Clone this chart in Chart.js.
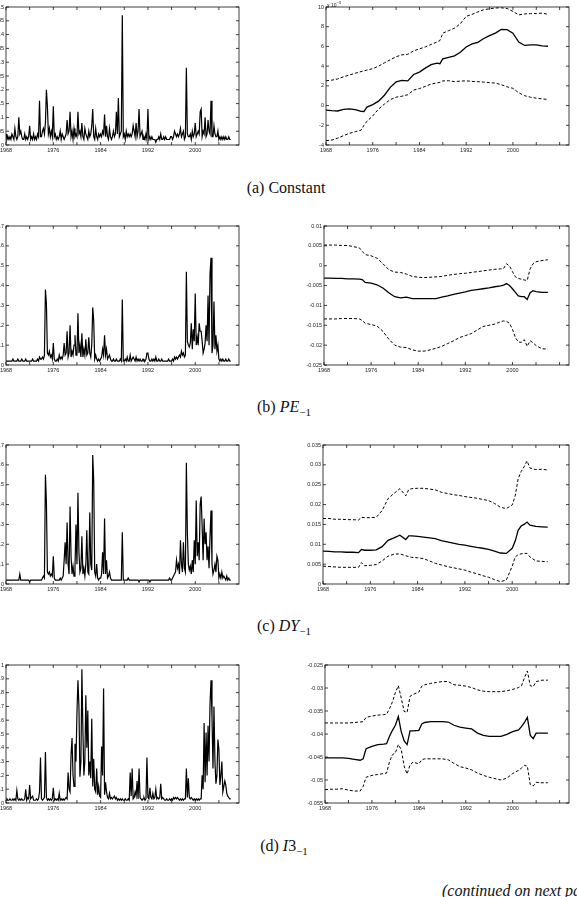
<!DOCTYPE html>
<html>
<head>
<meta charset="utf-8">
<script src="https://cdn.jsdelivr.net/npm/chart.js@4.4.1/dist/chart.umd.min.js"></script>
<style>
  html, body { margin: 0; padding: 0; background: #fff; }
  body { width: 577px; height: 897px; position: relative; overflow: hidden; }
  canvas { position: absolute; }
  .caption { position: absolute; width: 200px; text-align: center; font-family: 'Liberation Serif', serif; font-size: 16px; line-height: 20px; color: #111; }
  .caption sub { font-size: 11px; vertical-align: -4px; line-height: 0; }
  .scale-note { position: absolute; left: 327px; top: 0px; font: 5px 'Liberation Sans', sans-serif; color: #111; }
  .scale-note sup { font-size: 4px; }
  .more { position: absolute; left: 442px; top: 882px; font: italic 16px 'Liberation Serif', serif; white-space: nowrap; color: #111; }
</style>
</head>
<body>
<canvas id="leftA"></canvas>
<canvas id="rightA"></canvas>
<canvas id="leftB"></canvas>
<canvas id="rightB"></canvas>
<canvas id="leftC"></canvas>
<canvas id="rightC"></canvas>
<canvas id="leftD"></canvas>
<canvas id="rightD"></canvas>

<div class="scale-note">x 10<sup>−3</sup></div>
<div class="caption" style="left:186px; top:178px;">(a) Constant</div>
<div class="caption" style="left:184px; top:397px;">(b) <i>PE</i><sub>−1</sub></div>
<div class="caption" style="left:184px; top:616px;">(c) <i>DY</i><sub>−1</sub></div>
<div class="caption" style="left:184px; top:836px;">(d) <i>I</i>3<sub>−1</sub></div>
<div class="more">(continued on next page)</div>

<script>
// left column: one observation every two months, 1968 to 2006
const startYear = 1968;
const stepYears = 2 / 12;

const xTickYears = [1968, 1972, 1976, 1980, 1984, 1988, 1992, 1996, 2000, 2004, 2008];
const xLabelYears = [1968, 1976, 1984, 1992, 2000];

const leftTicksA = [0, 0.05, 0.1, 0.15, 0.2, 0.25, 0.3, 0.35, 0.4, 0.45, 0.5];
const leftTicksB = [0, 0.1, 0.2, 0.3, 0.4, 0.5, 0.6, 0.7];
const leftTicksC = [0, 0.1, 0.2, 0.3, 0.4, 0.5, 0.6, 0.7];
const leftTicksD = [0, 0.1, 0.2, 0.3, 0.4, 0.5, 0.6, 0.7, 0.8, 0.9, 1];
const rightTicksA = [-4, -2, 0, 2, 4, 6, 8, 10];
const rightTicksB = [-0.025, -0.02, -0.015, -0.01, -0.005, 0, 0.005, 0.01];
const rightTicksC = [0, 0.005, 0.01, 0.015, 0.02, 0.025, 0.03, 0.035];
const rightTicksD = [-0.055, -0.05, -0.045, -0.04, -0.035, -0.03, -0.025];

// (a) constant
const probConstant = [
  .04,.02,.03,.02,.03,.02, .04,.03,.02,.06,.03,.02, .03,.10,.04,.05,.03,.02, .02,.04,.02,.03,.02,.03,
  .07,.02,.03,.02,.04,.02, .03,.02,.04,.03,.16,.03, .03,.05,.06,.04,.08,.20, .14,.04,.06,.03,.05,.03,
  .14,.03,.04,.02,.03,.02, .03,.05,.02,.04,.03,.02, .03,.04,.09,.04,.05,.12, .03,.05,.02,.06,.03,.04,
  .03,.12,.04,.05,.03,.08, .03,.02,.06,.04,.03,.02, .05,.03,.04,.07,.13,.03, .02,.06,.03,.02,.04,.03,
  .04,.03,.05,.04,.11,.03, .07,.03,.02,.06,.03,.02, .03,.05,.03,.04,.12,.04, .17,.03,.04,.05,.47,.03,
  .04,.02,.05,.03,.04,.03, .04,.03,.04,.07,.05,.03, .08,.03,.05,.13,.03,.04, .05,.02,.03,.02,.04,.02,
  .13,.02,.03,.02,.03,.02, .02,.02,.01,.02,.02,.03, .02,.04,.02,.02,.03,.02, .03,.02,.02,.02,.02,.03,
  .03,.02,.03,.05,.04,.03, .04,.03,.04,.06,.03,.04, .05,.02,.03,.28,.04,.03, .03,.04,.02,.05,.03,.04,
  .08,.03,.04,.05,.04,.12, .13,.03,.05,.04,.10,.03, .04,.09,.05,.04,.16,.03, .03,.07,.04,.03,.03,.05,
  .02,.03,.02,.03,.02,.03, .02,.03,.02,.02,.03,.02, .02
];
const betaConstantMid = [-0.46, -0.52, -0.55, -0.38, -0.33, -0.40, -0.58, -0.60, -0.15, 0.10, 0.45, 1.05, 1.85, 2.40, 2.55, 2.50, 3.15, 3.40, 3.80, 4.15, 4.30, 4.25, 4.75, 4.90, 5.05, 5.40, 5.95, 6.25, 6.42, 6.80, 7.10, 7.35, 7.72, 7.70, 7.35, 6.45, 6.10, 6.15, 6.15, 6.05, 6.02];
const betaConstantHigh = [2.51, 2.58, 2.70, 2.92, 3.10, 3.28, 3.45, 3.52, 3.60, 3.74, 4.00, 4.33, 4.65, 4.95, 5.15, 5.20, 5.55, 5.75, 5.95, 6.20, 6.45, 6.60, 7.35, 7.60, 7.85, 8.30, 9.05, 9.25, 9.50, 9.72, 9.82, 9.90, 9.92, 9.85, 9.55, 9.20, 9.30, 9.33, 9.33, 9.38, 9.26];
const betaConstantLow = [-3.56, -3.50, -3.30, -3.05, -2.82, -2.65, -2.50, -2.00, -1.60, -1.05, -0.35, 0.15, 0.60, 0.85, 0.95, 1.10, 1.57, 1.72, 1.95, 2.18, 2.30, 2.35, 2.50, 2.52, 2.43, 2.48, 2.51, 2.45, 2.42, 2.38, 2.33, 2.28, 2.12, 1.90, 1.75, 1.30, 1.00, 0.85, 0.75, 0.68, 0.62];
const yearsConstant = [1968, 1969, 1970, 1971, 1972, 1973, 1974, 1974.5, 1975, 1976, 1977, 1978, 1979, 1980, 1981, 1982, 1983, 1984, 1985, 1986, 1987, 1987.5, 1988, 1989, 1990, 1991, 1992, 1993, 1994, 1995, 1996, 1997, 1998, 1999, 2000, 2001, 2002, 2003, 2004, 2005, 2006];

// (b) PE
const probPE = [
  .02,.02,.02,.02,.02,.02, .02,.03,.02,.02,.02,.02, .03,.02,.02,.02,.03,.02, .02,.02,.03,.02,.02,.02,
  .02,.02,.02,.03,.02,.02, .02,.02,.03,.02,.04,.03, .03,.04,.03,.05,.38,.31, .06,.05,.07,.04,.05,.03,
  .11,.03,.02,.02,.03,.02, .05,.03,.04,.03,.05,.11, .05,.06,.17,.04,.06,.20, .04,.07,.05,.10,.15,.05,
  .05,.26,.06,.10,.04,.16, .04,.08,.05,.13,.05,.06, .14,.06,.04,.10,.29,.22, .03,.05,.03,.02,.03,.02,
  .03,.04,.08,.05,.15,.05, .08,.03,.04,.05,.03,.02, .02,.03,.02,.02,.03,.02, .02,.02,.03,.02,.33,.02,
  .02,.03,.02,.04,.02,.02, .05,.02,.03,.04,.03,.02, .04,.02,.03,.02,.03,.02, .02,.03,.02,.02,.03,.06,
  .06,.03,.02,.02,.03,.02, .03,.02,.04,.02,.02,.03, .02,.02,.03,.02,.02,.02, .02,.02,.02,.03,.02,.02,
  .02,.03,.02,.04,.03,.04, .03,.04,.05,.04,.07,.05, .06,.04,.05,.47,.12,.10, .09,.11,.21,.08,.18,.12,
  .36,.10,.14,.10,.21,.17, .17,.12,.06,.08,.11,.20, .12,.35,.10,.46,.54,.06, .10,.32,.08,.15,.07,.10,
  .03,.02,.03,.02,.03,.02, .02,.03,.02,.02,.03,.02, .02
];
const yearsPE = [1968, 1969, 1970, 1971, 1972, 1973, 1974, 1974.5, 1975, 1976, 1977, 1978, 1979, 1980, 1981, 1982, 1983, 1984, 1985, 1986, 1987, 1988, 1989, 1990, 1991, 1992, 1993, 1994, 1995, 1996, 1997, 1998, 1998.5, 1999, 1999.5, 2000, 2000.5, 2001, 2001.5, 2002, 2002.5, 2003, 2003.5, 2004, 2005, 2006];
const betaPEMid = [-0.0031, -0.0031, -0.0032, -0.0032, -0.0033, -0.0033, -0.0034, -0.0035, -0.0042, -0.0044, -0.0048, -0.0056, -0.0068, -0.0078, -0.0081, -0.0079, -0.0083, -0.0083, -0.0083, -0.0083, -0.0083, -0.0079, -0.0076, -0.0072, -0.0069, -0.0066, -0.0062, -0.0060, -0.0058, -0.0056, -0.0053, -0.0051, -0.0049, -0.0045, -0.0050, -0.0058, -0.0067, -0.0076, -0.0078, -0.0078, -0.0085, -0.0068, -0.0063, -0.0065, -0.0067, -0.0067];
const betaPEHigh = [0.0052, 0.0052, 0.0052, 0.0051, 0.0051, 0.0048, 0.0045, 0.0036, 0.0028, 0.0025, 0.0019, 0.0005, -0.0010, -0.0016, -0.0017, -0.0021, -0.0027, -0.0029, -0.0030, -0.0029, -0.0028, -0.0027, -0.0024, -0.0022, -0.0020, -0.0019, -0.0017, -0.0015, -0.0013, -0.0011, -0.0009, -0.0008, -0.0007, 0.0005, -0.0001, -0.0015, -0.0028, -0.0032, -0.0034, -0.0036, -0.0037, -0.0008, 0.0005, 0.0010, 0.0013, 0.0015];
const betaPELow = [-0.0134, -0.0134, -0.0134, -0.0133, -0.0133, -0.0133, -0.0134, -0.0138, -0.0145, -0.0148, -0.0152, -0.0165, -0.0185, -0.0200, -0.0205, -0.0206, -0.0212, -0.0215, -0.0215, -0.0212, -0.0208, -0.0203, -0.0196, -0.0189, -0.0181, -0.0176, -0.0171, -0.0162, -0.0153, -0.0150, -0.0147, -0.0141, -0.0139, -0.0140, -0.0145, -0.0160, -0.0181, -0.0192, -0.0193, -0.0186, -0.0203, -0.0189, -0.0194, -0.0201, -0.0209, -0.0210];

// (c) DY
const probDY = [
  .02,.02,.02,.02,.02,.02, .02,.02,.02,.02,.02,.02, .02,.02,.05,.02,.02,.02, .02,.02,.02,.02,.02,.02,
  .01,.02,.02,.02,.02,.02, .02,.02,.02,.02,.02,.02, .02,.03,.04,.03,.55,.41, .06,.05,.06,.04,.05,.04,
  .14,.03,.02,.02,.02,.02, .02,.03,.02,.03,.04,.12, .21,.10,.31,.10,.05,.39, .14,.05,.09,.04,.08,.30,
  .10,.46,.16,.06,.08,.24, .05,.08,.04,.10,.27,.06, .05,.36,.10,.07,.65,.52, .06,.04,.10,.03,.02,.03,
  .03,.05,.16,.05,.33,.05, .12,.03,.04,.06,.03,.02, .02,.02,.02,.02,.02,.02, .02,.02,.02,.02,.26,.02,
  .02,.02,.02,.02,.03,.02, .02,.02,.02,.02,.02,.02, .02,.02,.02,.01,.02,.02, .02,.02,.02,.02,.02,.02,
  .02,.02,.01,.02,.02,.02, .02,.02,.02,.02,.02,.02, .02,.02,.02,.02,.02,.02, .02,.02,.02,.02,.03,.02,
  .02,.03,.04,.05,.06,.12, .08,.10,.05,.22,.10,.06, .21,.08,.06,.61,.26,.10, .07,.09,.05,.12,.06,.22,
  .10,.42,.14,.21,.12,.40, .44,.29,.12,.33,.20,.26, .12,.19,.08,.24,.37,.10, .05,.07,.10,.06,.14,.12,
  .03,.05,.03,.06,.03,.04, .03,.02,.04,.02,.03,.02, .02
];
const yearsDY = [1968, 1969, 1970, 1971, 1972, 1973, 1974, 1974.5, 1975, 1976, 1977, 1978, 1979, 1980, 1981, 1982, 1982.5, 1983, 1984, 1985, 1986, 1987, 1988, 1989, 1990, 1991, 1992, 1993, 1994, 1995, 1996, 1997, 1998, 1999, 2000, 2000.5, 2001, 2001.5, 2002, 2002.5, 2003, 2004, 2005, 2006];
const betaDYMid = [0.0083, 0.0082, 0.0081, 0.0081, 0.0080, 0.0080, 0.0079, 0.0087, 0.0085, 0.0085, 0.0086, 0.0094, 0.0110, 0.0116, 0.0123, 0.0112, 0.0121, 0.0121, 0.0120, 0.0118, 0.0116, 0.0114, 0.0109, 0.0106, 0.0103, 0.0100, 0.0098, 0.0095, 0.0092, 0.0090, 0.0087, 0.0083, 0.0078, 0.0077, 0.0090, 0.0108, 0.0135, 0.0146, 0.0150, 0.0156, 0.0148, 0.0145, 0.0144, 0.0143];
const betaDYHigh = [0.0165, 0.0165, 0.0163, 0.0163, 0.0162, 0.0162, 0.0161, 0.0168, 0.0167, 0.0167, 0.0168, 0.0185, 0.0215, 0.0228, 0.0240, 0.0222, 0.0238, 0.0240, 0.0241, 0.0241, 0.0239, 0.0237, 0.0231, 0.0228, 0.0225, 0.0223, 0.0220, 0.0218, 0.0216, 0.0213, 0.0210, 0.0203, 0.0193, 0.0190, 0.0199, 0.0222, 0.0265, 0.0283, 0.0295, 0.0310, 0.0292, 0.0288, 0.0289, 0.0287];
const betaDYLow = [0.0045, 0.0044, 0.0043, 0.0042, 0.0042, 0.0042, 0.0042, 0.0054, 0.0046, 0.0047, 0.0049, 0.0058, 0.0070, 0.0075, 0.0076, 0.0071, 0.0069, 0.0067, 0.0066, 0.0064, 0.0058, 0.0052, 0.0048, 0.0044, 0.0041, 0.0038, 0.0035, 0.0030, 0.0026, 0.0021, 0.0017, 0.0011, 0.0006, 0.0010, 0.0045, 0.0068, 0.0074, 0.0076, 0.0077, 0.0077, 0.0068, 0.0058, 0.0057, 0.0056];

// (d) I3
const probI3 = [
  .02,.03,.02,.02,.03,.02, .02,.03,.02,.03,.02,.09, .03,.02,.03,.02,.03,.02, .02,.03,.10,.02,.04,.03,
  .13,.03,.04,.05,.02,.02, .02,.03,.02,.03,.08,.33, .03,.02,.03,.04,.37,.04, .02,.03,.02,.03,.02,.03,
  .11,.02,.03,.02,.03,.02, .07,.02,.03,.02,.03,.02, .03,.04,.03,.22,.10,.08, .35,.47,.20,.12,.43,.30,
  .66,.89,.70,.19,.30,.97, .53,.20,.30,.78,.40,.67, .20,.30,.18,.61,.12,.32, .10,.08,.25,.06,.12,.05,
  .04,.41,.20,.83,.06,.15, .08,.04,.03,.07,.03,.04, .03,.04,.05,.03,.04,.02, .03,.02,.03,.02,.03,.02,
  .02,.03,.02,.02,.03,.02, .22,.05,.25,.03,.04,.08, .05,.16,.03,.25,.04,.03, .02,.03,.04,.02,.03,.33,
  .04,.03,.11,.04,.03,.07, .03,.04,.10,.03,.04,.03, .04,.14,.03,.04,.03,.02, .02,.03,.02,.02,.03,.02,
  .03,.02,.04,.03,.04,.03, .04,.03,.02,.03,.02,.03, .02,.03,.03,.25,.04,.18, .04,.03,.04,.03,.02,.03,
  .02,.03,.02,.03,.02,.03, .03,.20,.10,.58,.15,.51, .20,.56,.30,.72,.89,.62, .25,.70,.30,.14,.20,.46,
  .39,.13,.20,.30,.08,.12, .16,.13,.07,.05,.04,.03, .03
];
const yearsI3 = [1968, 1969, 1970, 1971, 1972, 1973, 1974, 1974.5, 1975, 1976, 1977, 1978, 1978.5, 1979, 1979.5, 1980, 1980.5, 1981, 1981.5, 1982, 1982.5, 1983, 1984, 1984.5, 1985, 1986, 1987, 1988, 1989, 1990, 1991, 1992, 1993, 1994, 1995, 1996, 1997, 1998, 1999, 2000, 2001, 2001.5, 2002, 2002.5, 2003, 2003.5, 2004, 2005, 2006];
const betaI3Mid = [-0.0452, -0.0452, -0.0452, -0.0452, -0.0453, -0.0455, -0.0457, -0.0454, -0.0432, -0.0427, -0.0423, -0.0422, -0.0421, -0.0405, -0.0392, -0.0381, -0.0362, -0.0395, -0.0415, -0.0423, -0.0393, -0.0393, -0.0392, -0.0378, -0.0375, -0.0373, -0.0373, -0.0373, -0.0374, -0.0381, -0.0385, -0.0387, -0.0389, -0.0398, -0.0403, -0.0405, -0.0405, -0.0405, -0.0401, -0.0395, -0.0391, -0.0384, -0.0375, -0.0364, -0.0403, -0.0410, -0.0398, -0.0398, -0.0398];
const betaI3High = [-0.0376, -0.0376, -0.0376, -0.0376, -0.0376, -0.0375, -0.0374, -0.0373, -0.0364, -0.0361, -0.0359, -0.0358, -0.0357, -0.0345, -0.0330, -0.0310, -0.0295, -0.0322, -0.0351, -0.0353, -0.0318, -0.0314, -0.0309, -0.0296, -0.0293, -0.0290, -0.0288, -0.0286, -0.0286, -0.0293, -0.0294, -0.0296, -0.0299, -0.0304, -0.0307, -0.0308, -0.0308, -0.0308, -0.0306, -0.0303, -0.0299, -0.0295, -0.0278, -0.0263, -0.0295, -0.0297, -0.0286, -0.0283, -0.0283];
const betaI3Low = [-0.0521, -0.0520, -0.0520, -0.0519, -0.0522, -0.0524, -0.0524, -0.0514, -0.0494, -0.0490, -0.0488, -0.0486, -0.0485, -0.0460, -0.0445, -0.0441, -0.0423, -0.0434, -0.0470, -0.0487, -0.0467, -0.0461, -0.0465, -0.0456, -0.0454, -0.0454, -0.0454, -0.0454, -0.0456, -0.0464, -0.0471, -0.0474, -0.0478, -0.0485, -0.0490, -0.0494, -0.0497, -0.0500, -0.0496, -0.0486, -0.0479, -0.0474, -0.0468, -0.0470, -0.0510, -0.0513, -0.0505, -0.0506, -0.0506];

const axisW = 36, axisH = 12, padT = 8, padR = 4;
const tickFont = { family: "'Liberation Sans', sans-serif", size: 5.5 };

// box of ticks drawn inward on all four sides, like the original plots
const frameTicks = {
  id: 'frameTicks',
  afterDatasetsDraw(chart) {
    const { ctx, chartArea: a, scales: { x, y } } = chart;
    ctx.save();
    ctx.strokeStyle = '#111';
    ctx.lineWidth = 0.8;
    ctx.strokeRect(a.left, a.top, a.right - a.left, a.bottom - a.top);
    ctx.beginPath();
    x.ticks.forEach(t => {
      const px = x.getPixelForValue(t.value);
      ctx.moveTo(px, a.bottom); ctx.lineTo(px, a.bottom - 3);
      ctx.moveTo(px, a.top); ctx.lineTo(px, a.top + 3);
    });
    y.ticks.forEach(t => {
      const py = y.getPixelForValue(t.value);
      ctx.moveTo(a.left, py); ctx.lineTo(a.left + 3, py);
      ctx.moveTo(a.right, py); ctx.lineTo(a.right - 3, py);
    });
    ctx.stroke();
    ctx.restore();
  }
};

function series(years, values, dashed) {
  return {
    data: values.map((v, i) => ({ x: years[i], y: v })),
    borderColor: '#000',
    borderWidth: dashed ? 1 : 1.3,
    borderDash: dashed ? [3, 2] : [],
    pointRadius: 0,
    tension: 0,
  };
}

function spikes(values) {
  return {
    data: values.map((v, i) => ({ x: startYear + i * stepYears, y: v })),
    borderColor: '#000',
    borderWidth: 1.2,
    pointRadius: 0,
    tension: 0,
  };
}

function makePanel(id, box, yTicks, xMax, datasets) {
  const canvas = document.getElementById(id);
  canvas.width = box.w + axisW + padR;
  canvas.height = box.h + padT + axisH;
  canvas.style.left = (box.x - axisW) + 'px';
  canvas.style.top = (box.y - padT) + 'px';

  return new Chart(canvas, {
    type: 'line',
    data: { datasets: datasets },
    options: {
      responsive: false,
      animation: false,
      layout: { padding: { top: padT, right: padR, left: 0, bottom: 0 } },
      plugins: { legend: { display: false }, tooltip: { enabled: false } },
      scales: {
        x: {
          type: 'linear',
          min: startYear,
          max: xMax,
          grid: { display: false, drawTicks: false },
          border: { display: false },
          afterBuildTicks: s => { s.ticks = xTickYears.filter(v => v <= xMax).map(v => ({ value: v })); },
          afterFit: s => { s.height = axisH; },
          ticks: {
            autoSkip: false, maxRotation: 0, padding: 2, color: '#222', font: tickFont,
            callback: v => xLabelYears.includes(v) ? String(v) : '',
          },
        },
        y: {
          min: yTicks[0],
          max: yTicks[yTicks.length - 1],
          grid: { display: false, drawTicks: false },
          border: { display: false },
          afterBuildTicks: s => { s.ticks = yTicks.map(v => ({ value: v })); },
          afterFit: s => { s.width = axisW; },
          ticks: {
            padding: 2, color: '#222', font: tickFont,
            callback: v => String(+v.toFixed(4)),
          },
        },
      },
    },
    plugins: [frameTicks],
  });
}

const leftMax = 2007.4, rightMax = 2009.6;

makePanel('leftA', { x: 6, y: 7, w: 233, h: 138 }, leftTicksA, leftMax, [spikes(probConstant)]);
makePanel('rightA', { x: 326, y: 7, w: 243, h: 138 }, rightTicksA, rightMax, [
  series(yearsConstant, betaConstantMid, false),
  series(yearsConstant, betaConstantHigh, true),
  series(yearsConstant, betaConstantLow, true),
]);

makePanel('leftB', { x: 6, y: 226, w: 233, h: 139 }, leftTicksB, leftMax, [spikes(probPE)]);
makePanel('rightB', { x: 324, y: 226, w: 245, h: 139 }, rightTicksB, rightMax, [
  series(yearsPE, betaPEMid, false),
  series(yearsPE, betaPEHigh, true),
  series(yearsPE, betaPELow, true),
]);

makePanel('leftC', { x: 6, y: 445, w: 233, h: 139 }, leftTicksC, leftMax, [spikes(probDY)]);
makePanel('rightC', { x: 323, y: 445, w: 246, h: 139 }, rightTicksC, rightMax, [
  series(yearsDY, betaDYMid, false),
  series(yearsDY, betaDYHigh, true),
  series(yearsDY, betaDYLow, true),
]);

makePanel('leftD', { x: 6, y: 665, w: 233, h: 138 }, leftTicksD, leftMax, [spikes(probI3)]);
makePanel('rightD', { x: 325, y: 665, w: 244, h: 138 }, rightTicksD, rightMax, [
  series(yearsI3, betaI3Mid, false),
  series(yearsI3, betaI3High, true),
  series(yearsI3, betaI3Low, true),
]);
</script>
</body>
</html>
